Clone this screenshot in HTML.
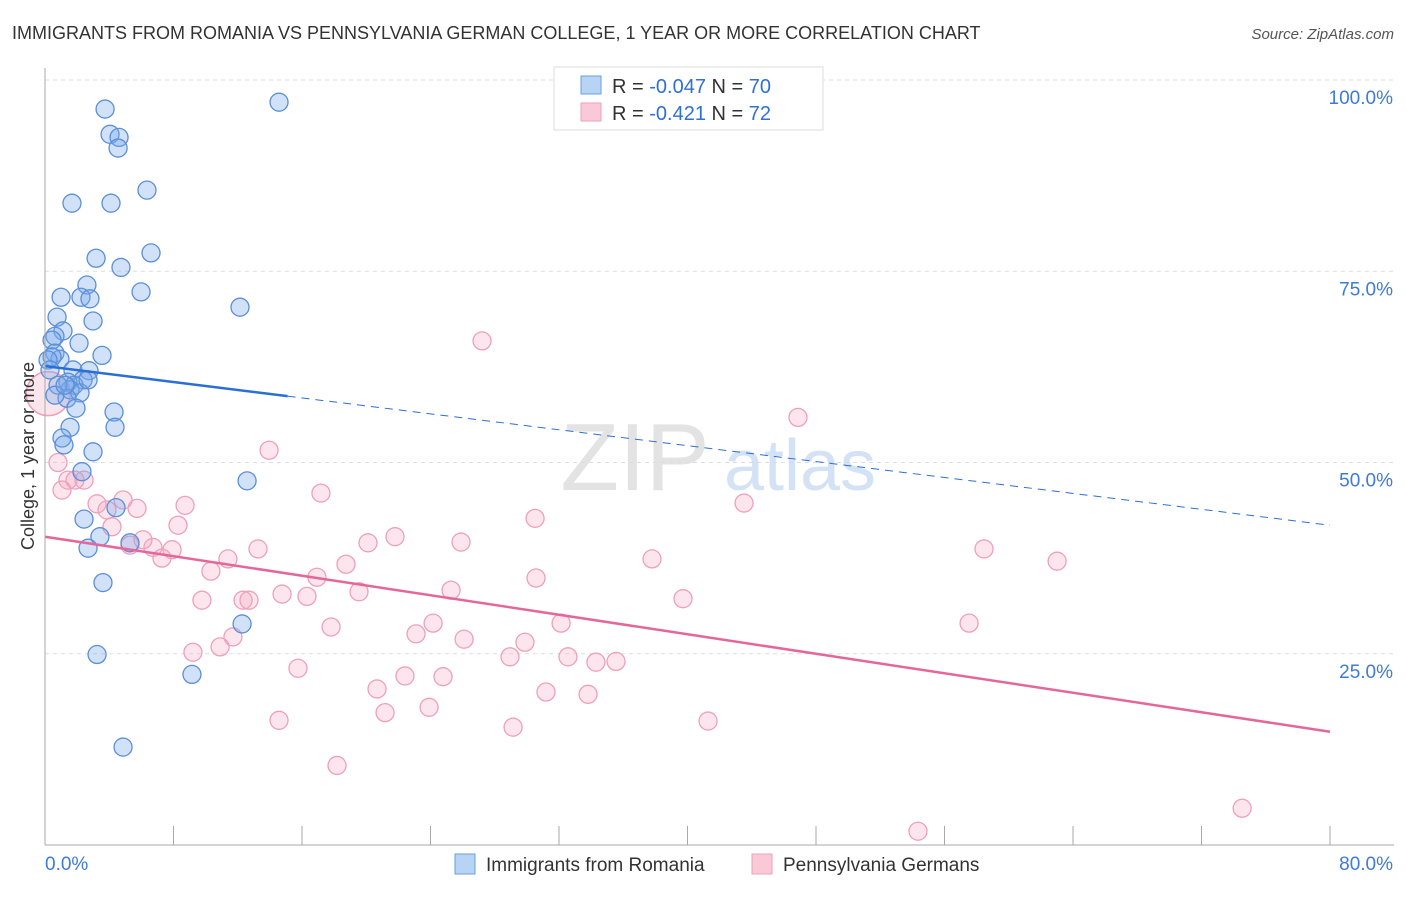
<!DOCTYPE html>
<html><head><meta charset="utf-8">
<style>
body{margin:0;background:#fff;font-family:"Liberation Sans",sans-serif;}
svg text{font-family:"Liberation Sans",sans-serif;}
</style></head>
<body>
<svg id="chart" width="1406" height="892" xmlns="http://www.w3.org/2000/svg">
<text x="12" y="39" font-size="18" fill="#333">IMMIGRANTS FROM ROMANIA VS PENNSYLVANIA GERMAN COLLEGE, 1 YEAR OR MORE CORRELATION CHART</text>
<text x="1394" y="39" font-size="15" fill="#555" font-style="italic" text-anchor="end">Source: ZipAtlas.com</text>
<g id="grid"></g>
<g>
<text x="635" y="490" font-size="96" fill="#ddd" font-family="Liberation Serif" text-anchor="middle" opacity="0.8">ZIP</text>
<text x="800" y="490" font-size="72" fill="#c9dcf2" text-anchor="middle" opacity="0.8">atlas</text>
</g>
<g id="pts"></g>
<g id="lines"></g>
<g id="axes"></g>
<text transform="translate(34,456) rotate(-90)" font-size="18" fill="#333" text-anchor="middle">College, 1 year or more</text>
<g>
<rect x="554" y="67" width="269" height="63" fill="#fff" stroke="#ddd"/>
<rect x="581" y="76" width="20" height="18" fill="#b8d4f5" stroke="#6a9ee0"/>
<rect x="581" y="103" width="20" height="18" fill="#f9c9d8" stroke="#eea0bb"/>
<text x="612" y="93" font-size="20" fill="#333">R = <tspan fill="#2f6fd6">-0.047</tspan>   N = <tspan fill="#2f6fd6">70</tspan></text>
<text x="612" y="120" font-size="20" fill="#333">R =  <tspan fill="#2f6fd6">-0.421</tspan>   N =  <tspan fill="#2f6fd6">72</tspan></text>
</g>
<g>
<rect x="455" y="854" width="20" height="20" fill="#b8d4f5" stroke="#6a9ee0"/>
<text x="486" y="871" font-size="19" fill="#333">Immigrants from Romania</text>
<rect x="752" y="854" width="20" height="20" fill="#f9c9d8" stroke="#eea0bb"/>
<text x="783" y="871" font-size="19" fill="#333">Pennsylvania Germans</text>
</g>
</svg>
<script>
const blueX=[3.74,14.57,4.05,4.61,4.55,6.35,1.68,4.11,6.60,3.18,4.73,2.61,5.98,1.00,2.24,2.80,12.14,2.99,0.75,1.12,0.62,0.44,2.12,3.55,0.62,0.93,0.44,1.74,2.74,2.37,1.43,1.81,1.56,2.18,1.37,1.93,4.30,4.36,1.56,1.06,1.18,2.99,2.30,12.58,4.42,2.43,3.42,5.29,2.68,3.61,12.27,3.24,9.15,4.86,0.19,0.31,0.81,0.62,1.25,2.68];
const blueY=[96.2,97.1,92.9,92.5,91.1,85.6,83.9,83.9,77.4,76.7,75.5,73.2,72.3,71.6,71.6,71.4,70.3,68.5,69.0,67.2,66.5,66.0,65.6,64.0,64.3,63.5,63.8,62.1,62.0,60.8,60.5,60.1,59.5,59.1,58.4,57.1,56.6,54.6,54.6,53.2,52.3,51.4,48.8,47.6,44.1,42.6,40.3,39.5,38.8,34.3,28.9,24.9,22.3,12.8,63.4,62.1,60.1,58.8,60.1,60.8];
const pinkX=[27.21,46.88,13.95,0.81,17.18,1.43,2.43,3.24,4.86,5.73,8.72,30.51,43.52,3.86,4.17,8.28,21.79,20.11,25.90,13.26,6.72,7.91,5.29,7.28,11.39,37.79,58.46,63.01,18.74,16.93,10.33,30.57,25.28,19.55,14.76,16.31,9.77,12.33,12.70,39.72,32.13,17.81,24.16,57.53,23.10,26.09,29.88,11.70,10.90,9.21,28.95,32.56,34.30,35.55,15.75,22.41,24.78,20.67,31.19,33.81,23.91,21.17,14.57,29.14,41.28,18.18,54.35,74.53,1.87,1.06,6.10];
const pinkY=[65.9,55.9,51.6,50.0,46.0,47.7,47.7,44.6,45.1,44.0,44.4,42.7,44.7,43.8,41.6,41.8,40.3,39.5,39.6,38.7,38.9,38.6,39.2,37.5,37.4,37.4,38.7,37.1,36.7,35.0,35.8,34.9,33.3,33.1,32.8,32.5,32.0,32.0,32.0,32.2,29.0,28.5,29.0,29.0,27.6,26.9,26.5,27.2,25.9,25.2,24.6,24.6,23.9,24.0,23.1,22.1,22.0,20.4,20.0,19.7,18.0,17.3,16.3,15.4,16.2,10.4,1.8,4.8,47.7,46.4,39.9];
const blueTrend=[62.6,41.8]; // value at x=0 and x=80
const blueSolidEnd=15.1;
const pinkTrend=[40.3,14.8];
const yTicks=[25,50,75,100];
const yTickLabels=["25.0%","50.0%","75.0%","100.0%"];
const xTicks=[0,8,16,24,32,40,48,56,64,72,80];

const NS="http://www.w3.org/2000/svg";
const X=v=>45+v*(1285/80);
const Y=v=>845-v*7.65;
function mk(tag,attrs,parent){const e=document.createElementNS(NS,tag);for(const k in attrs)e.setAttribute(k,attrs[k]);parent.appendChild(e);return e;}
const grid=document.getElementById('grid'),pts=document.getElementById('pts'),lines=document.getElementById('lines'),axes=document.getElementById('axes');
yTicks.forEach((t,i)=>{
  const l=mk('line',{x1:45,x2:1394,y1:Y(t),y2:Y(t),stroke:'#ddd','stroke-dasharray':'4,4'},grid);
  
  
  const tx=mk('text',{x:1393,y:Y(t)+24,'font-size':19,fill:'#3d7bd9','text-anchor':'end'},axes);
  tx.textContent=yTickLabels[i];
  
  
});
const topL=mk('line',{x1:45,x2:1394,y1:Y(100),y2:Y(100),stroke:'#ddd','stroke-dasharray':'4,4'},grid);


const ya=mk('line',{x1:45,x2:45,y1:68,y2:845,stroke:'#aaa'},axes);


const xa=mk('line',{x1:45,x2:1394,y1:845,y2:845,stroke:'#aaa'},axes);


xTicks.forEach(t=>{
  const l=mk('line',{x1:X(t),x2:X(t),y1:826,y2:845,stroke:'#aaa'},axes);
  
  
});
const x0=mk('text',{x:45,y:870,'font-size':19,fill:'#3d7bd9'},axes);x0.textContent="0.0%";


const x1=mk('text',{x:1393,y:870,'font-size':19,fill:'#3d7bd9','text-anchor':'end'},axes);x1.textContent="80.0%";



// large overlapping points at the left edge
const bigP=mk('circle',{cx:X(0.2),cy:Y(59),r:22,fill:'rgba(240,150,180,0.25)',stroke:'#eea0bb','stroke-width':1.5},pts);


pinkX.forEach((v,i)=>{
  const c=mk('circle',{cx:X(v),cy:Y(pinkY[i]),r:9,fill:'rgba(245,170,195,0.3)',stroke:'#eea0bb','stroke-width':1.3},pts);
  
  
});
blueX.forEach((v,i)=>{
  const c=mk('circle',{cx:X(v),cy:Y(blueY[i]),r:9,fill:'rgba(120,170,235,0.35)',stroke:'#5b8fd8','stroke-width':1.3},pts);
  
  
});
const bv=x=>blueTrend[0]+(blueTrend[1]-blueTrend[0])*x/80;
const bs=mk('line',{x1:X(0),y1:Y(bv(0)),x2:X(blueSolidEnd),y2:Y(bv(blueSolidEnd)),stroke:'#2a6fd6','stroke-width':2.5},lines);


const bd=mk('line',{x1:X(blueSolidEnd),y1:Y(bv(blueSolidEnd)),x2:X(80),y2:Y(bv(80)),stroke:'#2a6fd6','stroke-width':1,'stroke-dasharray':'8,6'},lines);


const pl=mk('line',{x1:X(0),y1:Y(pinkTrend[0]),x2:X(80),y2:Y(pinkTrend[1]),stroke:'#e5679a','stroke-width':2.5},lines);


</script>
</body></html>
